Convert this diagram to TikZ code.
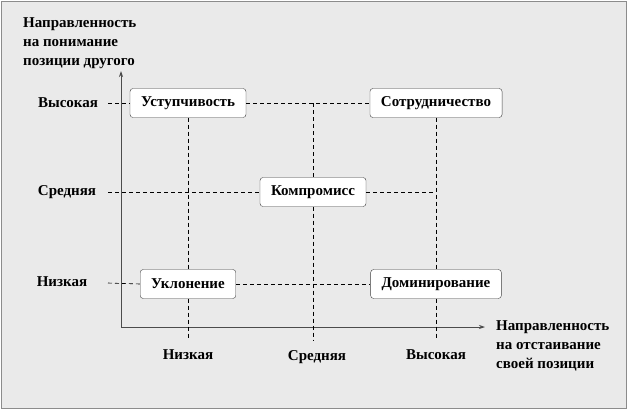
\documentclass[tikz,border=0pt]{standalone}
\usepackage{fontspec}
\setmainfont{LiberationSerif}[Extension=.ttf, UprightFont=*-Regular,
    BoldFont=*-Bold, ItalicFont=*-Italic, BoldItalicFont=*-BoldItalic]
\usetikzlibrary{arrows.meta, positioning}
\definecolor{bggray}{RGB}{234,234,234}
\definecolor{framegray}{RGB}{140,140,140}

\begin{document}
\begin{tikzpicture}[
    x=1pt, y=-1pt,
    font=\fontsize{15}{19}\selectfont\bfseries,
    box/.style={draw=black!75, fill=white, rounded corners=3pt,
                minimum height=29pt, inner xsep=11pt},
    gridline/.style={dash pattern=on 4pt off 3pt, line width=0.6pt},
    axis/.style={-{Stealth[length=6pt, width=4pt]}, line width=0.8pt, black!70},
    lbl/.style={inner sep=0pt}
]
    \useasboundingbox (0,0) rectangle (628,410);
    \draw[framegray, fill=bggray] (1,1) rectangle (626,408);

    % axes
    \coordinate (o) at (121,327);
    \coordinate (ytip) at (121,71);
    \coordinate (xtip) at (485,327);
    \draw[axis] (o) -- (ytip);
    \draw[axis] (o) -- (xtip);

    \node[lbl, align=left, anchor=west] (ytitle) at (23,43)
        {Направленность\\на понимание\\позиции другого};
    \node[lbl, align=left, anchor=west] (xtitle) at (496,346)
        {Направленность\\на отстаивание\\своей позиции};

    % level labels
    \node[lbl] (yhigh) at (68,103) {Высокая};
    \node[lbl] (ymid) at (67,192) {Средняя};
    \node[lbl] (ylow) at (62,282) {Низкая};
    \node[lbl] (xlow) at (188,355) {Низкая};
    \node[lbl] (xmid) at (317,357) {Средняя};
    \node[lbl] (xhigh) at (436,355) {Высокая};

    % styles of conflict behaviour
    \node[box] (ust) at (188,103) {Уступчивость};
    \node[box] (sotr) at (436,103) {Сотрудничество};
    \node[box] (komp) at (313,192) {Компромисс};
    \node[box] (ukl) at (188,284) {Уклонение};
    \node[box] (dom) at (436,284) {Доминирование};

    % grid ends
    \coordinate (rh) at (108,103);
    \coordinate (rm) at (108,192);
    \coordinate (rl) at (108,283);
    \coordinate (cl) at (188,340);
    \coordinate (cm) at (313,340);
    \coordinate (ch) at (436,340);
    \coordinate (mtop) at (313,103);
    \coordinate (mright) at (436,192);

    \draw[gridline] (rh) -- (ust.west);
    \draw[gridline] (ust.east) -- (sotr.west);
    \draw[gridline] (rm) -- (komp.west);
    \draw[gridline] (komp.east) -- (mright);
    \draw[gridline] (rl) -- (ukl.west);
    \draw[gridline] (ukl.east) -- (dom.west);
    \draw[gridline] (ust.south) -- (ukl.north);
    \draw[gridline] (ukl.south) -- (cl);
    \draw[gridline] (mtop) -- (komp.north);
    \draw[gridline] (komp.south) -- (cm);
    \draw[gridline] (sotr.south) -- (dom.north);
    \draw[gridline] (dom.south) -- (ch);
\end{tikzpicture}
\end{document}
